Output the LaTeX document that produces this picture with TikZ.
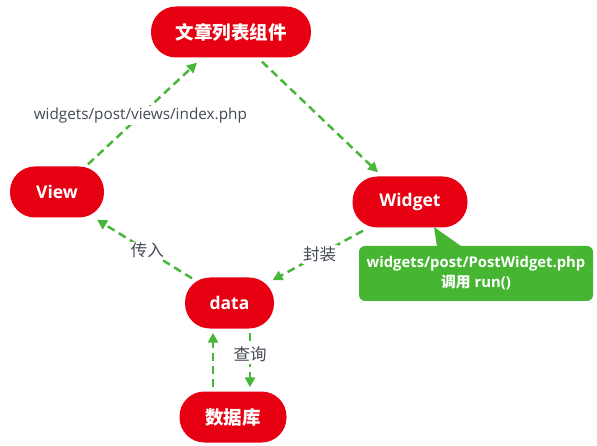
\documentclass[tikz,border=0pt]{standalone}
\usepackage{fontspec}
\setmainfont{Open Sans}
\newfontfamily\cjk{Noto Sans CJK SC}
\usetikzlibrary{arrows.meta}
\definecolor{nodered}{HTML}{E60012}
\definecolor{linegreen}{HTML}{48B63A}
\definecolor{calloutgreen}{HTML}{45B532}
\definecolor{labelgray}{HTML}{444A56}
\tikzset{
  pill/.style={fill=nodered, text=white, font=\bfseries\fontsize{17.5}{20}\selectfont,
    rounded corners=25pt, inner sep=0pt, minimum height=51pt},
  flow/.style={draw=linegreen, line width=2.5pt, dash pattern=on 8pt off 5pt,
    -{Triangle[length=10pt,width=10pt]}},
  lbl/.style={fill=white, text=labelgray, inner sep=1.5pt, font=\fontsize{15.3}{17}\selectfont},
  cjklbl/.style={lbl, font=\cjk\fontsize{16.5}{18}\selectfont},
}
\begin{document}
\begin{tikzpicture}[x=1pt,y=-1pt]
\useasboundingbox (0,0) rectangle (597,446);
\node[pill, minimum width=160pt] (list) at (231,32) {\cjk\fontsize{18.5}{20}\selectfont\bfseries 文章列表组件};
\node[pill, minimum width=94pt] (view) at (57,192) {View};
\node[pill, minimum width=115pt] (widget) at (410,202) {Widget};
\node[pill, minimum width=89pt] (data) at (229.5,303) {data};
\node[pill, minimum width=107pt] (db) at (233,417) {\cjk\fontsize{18.5}{20}\selectfont\bfseries 数据库};
% callout
\node[fill=calloutgreen, rounded corners=6pt, minimum width=234pt, minimum height=55pt,
  inner sep=0pt, text=white, align=center, font=\bfseries\fontsize{14.8}{20}\selectfont] (note) at (476,273.5)
  {widgets/post/PostWidget.php\\{\cjk 调用} run()};
\coordinate (tip) at (434,227);
\fill[calloutgreen] (tip) -- ([xshift=-39pt,yshift=-1pt]note.north) -- ([xshift=-14pt,yshift=-1pt]note.north) -- cycle;
% connectors
\draw[flow] ([xshift=31pt,yshift=2pt]view.north) -- node[lbl, pos=0.48] {widgets/post/views/index.php} ([xshift=-34pt,yshift=-5pt]list.south);
\draw[flow] ([xshift=31pt,yshift=-4pt]list.south) -- ([xshift=-32pt,yshift=4pt]widget.north);
\draw[flow] ([xshift=-47pt,yshift=-3pt]widget.south) -- node[cjklbl, pos=0.48] {封装} ([xshift=43pt,yshift=-3pt]data.north);
\draw[flow] ([xshift=-37.5pt,yshift=-1pt]data.north) -- node[cjklbl, pos=0.47] {传入} ([xshift=40pt,yshift=-2pt]view.south);
\draw[flow] ([xshift=-20pt,yshift=4pt]db.north) -- ([xshift=-16.5pt,yshift=-4pt]data.south);
\draw[flow] ([xshift=20.5pt,yshift=-4pt]data.south) -- node[cjklbl, pos=0.4] {查询} ([xshift=17pt,yshift=4pt]db.north);
\end{tikzpicture}
\end{document}
